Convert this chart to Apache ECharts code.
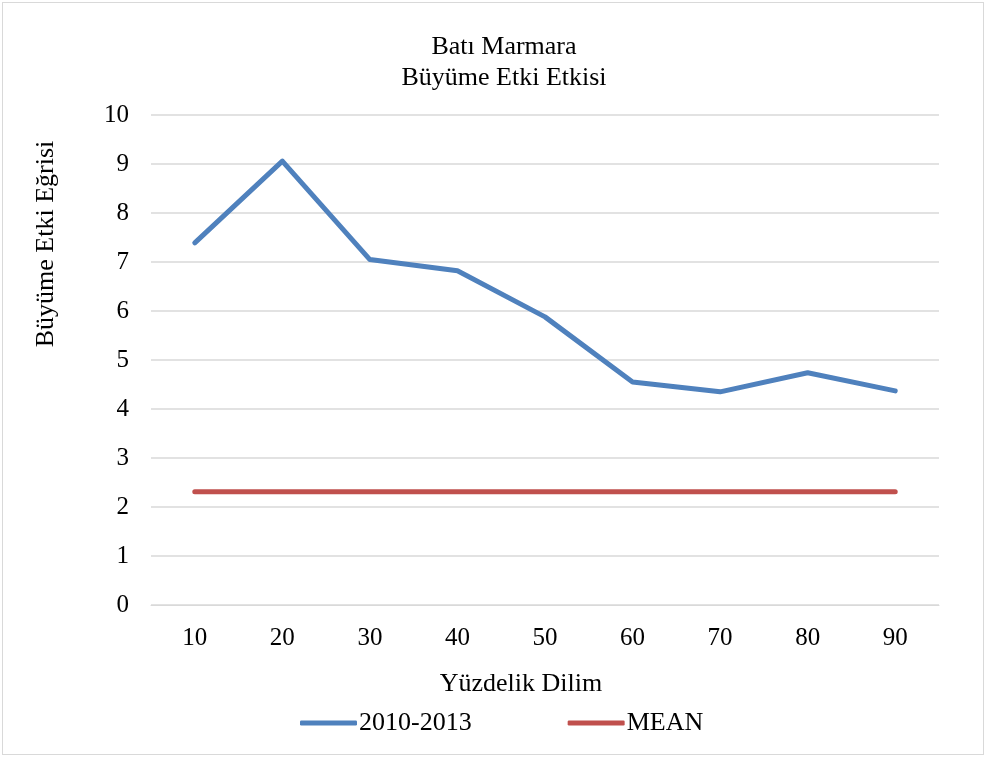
<!DOCTYPE html>
<html>
<head>
<meta charset="utf-8">
<script src="https://cdn.jsdelivr.net/npm/echarts@6/dist/echarts.min.js"></script>
<style>
  html, body { margin: 0; padding: 0; background: #fff; }
  #frame { position: absolute; left: 2px; top: 2px; width: 980px; height: 751px; border: 1px solid #d9d9d9; }
  #chart { position: absolute; left: 0; top: 0; width: 986px; height: 758px; }
</style>
</head>
<body>
<div id="frame"></div>
<div id="chart"></div>
<script>
// data
const categories = ['10', '20', '30', '40', '50', '60', '70', '80', '90']
const growthData = [7.39, 9.06, 7.05, 6.82, 5.88, 4.55, 4.35, 4.74, 4.37]
const meanData = [2.31, 2.31, 2.31, 2.31, 2.31, 2.31, 2.31, 2.31, 2.31]

const font = '"Liberation Serif", "Times New Roman", serif'

const chart = echarts.init(document.getElementById('chart'))
chart.setOption({
  animation: false,
  textStyle: { fontFamily: font, color: '#000' },
  legend: {
    left: 295,
    top: 705,
    itemWidth: 57,
    itemHeight: 5,
    itemGap: 96,
    icon: 'roundRect',
    textStyle: { fontFamily: font, fontSize: 26, color: '#000', padding: [0, 0, 0, -3] },
    data: ['2010-2013', 'MEAN']
  },
  grid: { left: 151, right: 47, top: 115, bottom: 153, containLabel: false },
  xAxis: {
    type: 'category',
    data: categories,
    axisLine: { lineStyle: { color: '#d9d9d9', width: 1 } },
    axisTick: { show: false },
    axisLabel: { fontFamily: font, fontSize: 25, color: '#000', margin: 21 }
  },
  yAxis: {
    type: 'value',
    min: 0,
    max: 10,
    interval: 1,
    axisLine: { show: false },
    axisTick: { show: false },
    splitLine: { lineStyle: { color: '#d9d9d9', width: 1.5 } },
    axisLabel: { fontFamily: font, fontSize: 25, color: '#000', margin: 22 }
  },
  graphic: [
    {
      type: 'text',
      x: 504, y: 47,
      style: { text: 'Batı Marmara', font: '26px ' + font, fill: '#000', align: 'center', verticalAlign: 'middle' }
    },
    {
      type: 'text',
      x: 504, y: 78,
      style: { text: 'Büyüme Etki Etkisi', font: '26px ' + font, fill: '#000', align: 'center', verticalAlign: 'middle' }
    },
    {
      type: 'text',
      x: 46, y: 244,
      rotation: Math.PI / 2,
      style: { text: 'Büyüme Etki Eğrisi', font: '26px ' + font, fill: '#000', align: 'center', verticalAlign: 'middle' }
    },
    {
      type: 'text',
      x: 521, y: 684,
      style: { text: 'Yüzdelik Dilim', font: '26px ' + font, fill: '#000', align: 'center', verticalAlign: 'middle' }
    }
  ],
  series: [
    {
      name: '2010-2013',
      type: 'line',
      data: growthData,
      symbol: 'none',
      lineStyle: { color: '#4f81bd', width: 5, cap: 'round', join: 'round' },
      itemStyle: { color: '#4f81bd' }
    },
    {
      name: 'MEAN',
      type: 'line',
      data: meanData,
      symbol: 'none',
      lineStyle: { color: '#c0504d', width: 5, cap: 'round' },
      itemStyle: { color: '#c0504d' }
    }
  ]
})
</script>
</body>
</html>
